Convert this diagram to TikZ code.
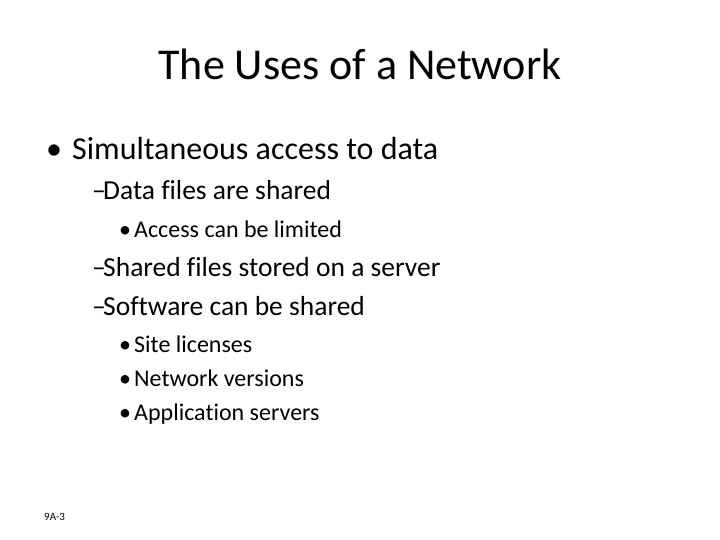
\documentclass[tikz,border=0pt]{standalone}
\usepackage{fontspec}
\setmainfont{Carlito}[Ligatures={NoCommon}]
\begin{document}
\begin{tikzpicture}[x=1pt,y=-1pt,
  t/.style={anchor=base west,inner sep=0pt,text=black},
  l1/.style={t,font=\fontsize{32}{34}\selectfont},
  l2/.style={t,font=\fontsize{27.5}{30}\selectfont},
  l3/.style={t,font=\fontsize{24}{26}\selectfont}]
\useasboundingbox[fill=white] (0,0) rectangle (720,540);
\node[anchor=base,inner sep=0pt,font=\fontsize{44}{48}\selectfont] (title) at (360,80) {The Uses of a Network};
\node[l1] (b1) at (46,160) {•};
\node[l1] (a) at (72,160) {Simultaneous access to data};
\node[l2] (e1) at (92,200) {–};
\node[l2] (a1) at (103,200) {Data files are shared};
\node[l3] (d1) at (119,237) {•};
\node[l3] (a11) at (134,237) {Access can be limited};
\node[l2] (e2) at (92,276) {–};
\node[l2] (a2) at (103,276) {Shared files stored on a server};
\node[l2] (e3) at (92,315) {–};
\node[l2] (a3) at (103,315) {Software can be shared};
\node[l3] (d2) at (119,352) {•};
\node[l3] (a31) at (134,352) {Site licenses};
\node[l3] (d3) at (119,386) {•};
\node[l3] (a32) at (134,386) {Network versions};
\node[l3] (d4) at (119,420) {•};
\node[l3] (a33) at (134,420) {Application servers};
\node[t,font=\fontsize{11}{13}\selectfont] (foot) at (44,520) {9A-3};
\end{tikzpicture}
\end{document}
